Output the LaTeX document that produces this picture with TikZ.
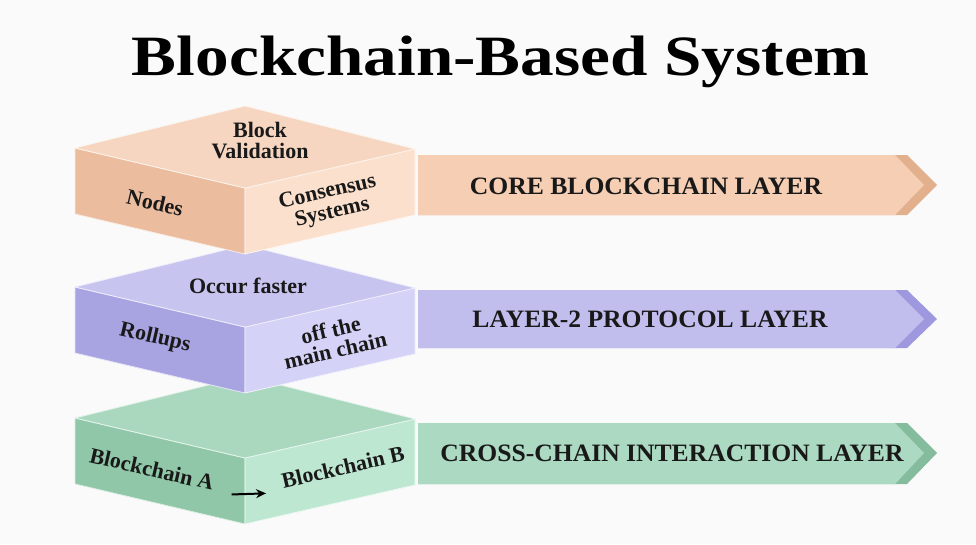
\documentclass[tikz,border=0pt]{standalone}
\usepackage{fontspec}
\setmainfont{Liberation Serif}
\usepackage{tikz}
\usepackage{xcolor}
\usetikzlibrary{positioning, arrows.meta, calc}

\definecolor{coretop}{HTML}{F6D6C0}
\definecolor{coreleft}{HTML}{EBBC9E}
\definecolor{coreright}{HTML}{FBE0CD}
\definecolor{corearrow}{HTML}{F5CEB3}
\definecolor{coretip}{HTML}{E3B08E}
\definecolor{ltwotop}{HTML}{C7C4EF}
\definecolor{ltwoleft}{HTML}{A8A4E2}
\definecolor{ltworight}{HTML}{D4D2F6}
\definecolor{ltwoarrow}{HTML}{C1BEEE}
\definecolor{ltwotip}{HTML}{9E99DE}
\definecolor{cctop}{HTML}{A9D8BF}
\definecolor{ccleft}{HTML}{8FC7A8}
\definecolor{ccright}{HTML}{BEE7D2}
\definecolor{ccarrow}{HTML}{ABD9C1}
\definecolor{cctip}{HTML}{86BC9E}

\begin{document}
\begin{tikzpicture}[
  x=1pt, y=-1pt,
  face/.style={fill=#1, draw=white!70!#1, line width=0.8pt, line join=round},
  facetext/.style={font=\bfseries\fontsize{22}{21}\selectfont, align=center, text=black!90},
  layertext/.style={font=\bfseries\fontsize{25}{27}\selectfont, text=black!90, xscale=1.025},
  >=Stealth
]
\useasboundingbox[fill=black!2] (0,0) rectangle (976,544);

% Title
\node[font=\bfseries\fontsize{57}{57}\selectfont, anchor=base, xscale=1.18] (title) at (501,75) {Blockchain-Based System};

% Layer arrows
\fill[coretip] (418,155) -- (907,155) -- (937,185) -- (907,215) -- (418,215) -- cycle;
\fill[corearrow] (418,155) -- (895,155) -- (924,185) -- (895,215) -- (418,215) -- cycle;
\node[layertext] (core) at (646,186) {CORE BLOCKCHAIN LAYER};

\fill[ltwotip] (418,290) -- (907,290) -- (937,319) -- (907,348) -- (418,348) -- cycle;
\fill[ltwoarrow] (418,290) -- (895,290) -- (924,319) -- (895,348) -- (418,348) -- cycle;
\node[layertext] (ltwo) at (650,319) {LAYER-2 PROTOCOL LAYER};

\fill[cctip] (418,423) -- (907,423) -- (937,453) -- (907,484) -- (418,484) -- cycle;
\fill[ccarrow] (418,423) -- (895,423) -- (924,453) -- (895,484) -- (418,484) -- cycle;
\node[layertext] (cross) at (672,453) {CROSS-CHAIN INTERACTION LAYER};

% Cross-chain block
\draw[face=ccleft] (75,418) -- (245,458) -- (245,524) -- (75,484) -- cycle;
\draw[face=ccright] (245,458) -- (415,419) -- (415,485) -- (245,524) -- cycle;
\draw[face=cctop] (245,376) -- (415,419) -- (245,458) -- (75,418) -- cycle;
\node[facetext, rotate=-13] (bcA) at (152,469) {Blockchain A};
\node[facetext, rotate=13] (bcB) at (343,467) {Blockchain B};
\draw[-{Stealth[length=10pt, width=9pt]}, line width=2pt, shorten <=17pt, shorten >=15pt] (bcA.south east) -- (bcB.south west);

% Layer-2 block
\draw[face=ltwoleft] (75,287) -- (245,327) -- (245,393) -- (75,353) -- cycle;
\draw[face=ltworight] (245,327) -- (415,288) -- (415,354) -- (245,393) -- cycle;
\draw[face=ltwotop] (245,245) -- (415,288) -- (245,327) -- (75,287) -- cycle;
\node[facetext] (faster) at (248,286) {Occur faster};
\node[facetext, rotate=-13] (rollups) at (155,338) {Rollups};
\node[facetext, rotate=13] (offchain) at (333,340) {off the\\main chain};

% Core block
\draw[face=coreleft] (75,148) -- (245,188) -- (245,254) -- (75,214) -- cycle;
\draw[face=coreright] (245,188) -- (415,149) -- (415,215) -- (245,254) -- cycle;
\draw[face=coretop] (245,106) -- (415,149) -- (245,188) -- (75,148) -- cycle;
\node[facetext] (valid) at (260,141) {Block\\Validation};
\node[facetext, rotate=-13] (nodes) at (155,203) {Nodes};
\node[facetext, rotate=13] (consensus) at (330,203) {Consensus\\Systems};

\end{tikzpicture}
\end{document}
